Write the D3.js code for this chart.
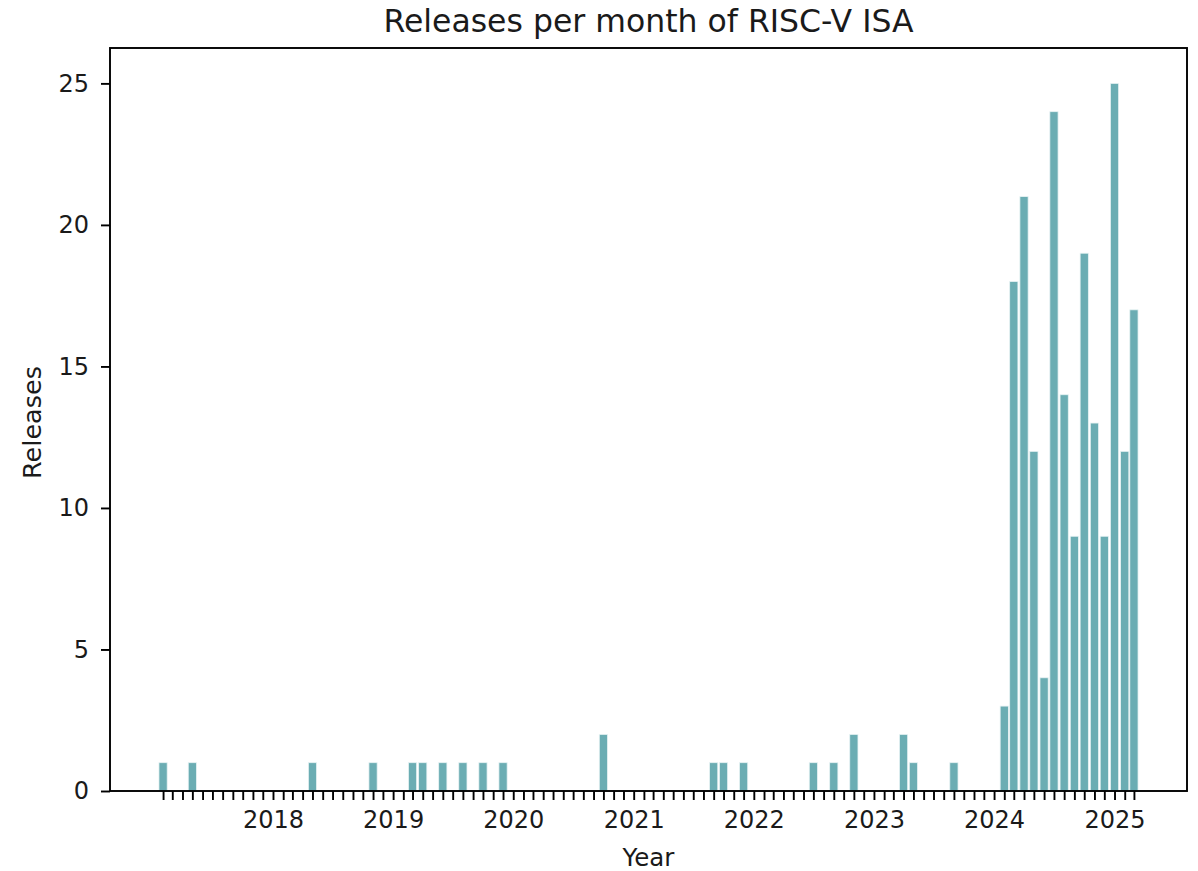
<!DOCTYPE html>
<html>
<head>
<meta charset="utf-8">
<script src="https://cdn.jsdelivr.net/npm/d3@7"></script>
<style>
    body { margin: 0; background: #fff; }
    text { font-family: "DejaVu Sans", sans-serif; fill: #1a1a1a; }
</style>
</head>
<body>
<div id="chart"></div>
<script>
// releases per month (only months with releases)
const months = [
    "2017-02", "2017-05", "2018-05", "2018-11", "2019-03", "2019-04", "2019-06",
    "2019-08", "2019-10", "2019-12", "2020-10", "2021-09", "2021-10", "2021-12",
    "2022-07", "2022-09", "2022-11", "2023-04", "2023-05", "2023-09",
    "2024-02", "2024-03", "2024-04", "2024-05", "2024-06", "2024-07", "2024-08",
    "2024-09", "2024-10", "2024-11", "2024-12", "2025-01", "2025-02", "2025-03"
];
const releases = [
    1, 1, 1, 1, 1, 1, 1,
    1, 1, 1, 2, 1, 1, 1,
    1, 1, 2, 2, 1, 1,
    3, 18, 21, 12, 4, 24, 14,
    9, 19, 13, 9, 25, 12, 17
];
const yTicks = [0, 5, 10, 15, 20, 25];
const yearTicks = ["2018", "2019", "2020", "2021", "2022", "2023", "2024", "2025"];

const width = 1198, height = 871;
const margin = { top: 48, right: 11, bottom: 80, left: 110 };
const DAY = 24 * 3600 * 1000;
const barDays = 25;

const parse = d3.utcParse("%Y-%m");
const data = months.map((m, i) => ({ date: parse(m), value: releases[i] }));

const first = data[0].date, last = data[data.length - 1].date;
// matplotlib-style 5% margins around the bar extents
const span = (last - first) + barDays * DAY;
const pad = 0.05 * span + barDays * DAY / 2;

const x = d3.scaleUtc()
    .domain([new Date(+first - pad), new Date(+last + pad)])
    .range([margin.left, width - margin.right]);

const y = d3.scaleLinear()
    .domain([0, 25 * 1.05])
    .range([height - margin.bottom, margin.top]);

const svg = d3.select("#chart").append("svg")
    .attr("width", width)
    .attr("height", height);

svg.append("g")
    .selectAll("rect")
    .data(data)
    .enter().append("rect")
    .attr("x", d => x(new Date(+d.date - barDays * DAY / 2)))
    .attr("width", d => x(new Date(+d.date + barDays * DAY / 2)) - x(new Date(+d.date - barDays * DAY / 2)))
    .attr("y", d => y(d.value))
    .attr("height", d => y(0) - y(d.value))
    .attr("fill", "#6badb3")
    .attr("stroke", "#e8f3f4")
    .attr("stroke-width", 0.8);

// one tick per month, year label on January
const allMonths = d3.utcMonth.range(first, new Date(+last + DAY));
const xAxis = d3.axisBottom(x)
    .tickValues(allMonths)
    .tickSize(9)
    .tickSizeOuter(0)
    .tickPadding(11)
    .tickFormat(d => {
        const yr = String(d.getUTCFullYear());
        return d.getUTCMonth() === 0 && yearTicks.includes(yr) ? yr : "";
    });

const gx = svg.append("g")
    .attr("transform", `translate(0,${height - margin.bottom})`)
    .call(xAxis);
gx.select(".domain").remove();
gx.selectAll("line").attr("stroke", "#000").attr("stroke-width", 1.9);
gx.selectAll("text").style("font-size", "24px").attr("fill", "#1a1a1a");

const yAxis = d3.axisLeft(y)
    .tickValues(yTicks)
    .tickSize(9)
    .tickSizeOuter(0)
    .tickPadding(12);

const gy = svg.append("g")
    .attr("transform", `translate(${margin.left},0)`)
    .call(yAxis);
gy.select(".domain").remove();
gy.selectAll("line").attr("stroke", "#000").attr("stroke-width", 1.9);
gy.selectAll("text").style("font-size", "24px").attr("fill", "#1a1a1a");

// axes frame
svg.append("rect")
    .attr("x", margin.left)
    .attr("y", margin.top)
    .attr("width", width - margin.right - margin.left)
    .attr("height", height - margin.bottom - margin.top)
    .attr("fill", "none")
    .attr("stroke", "#000")
    .attr("stroke-width", 1.9);

const cx = (margin.left + width - margin.right) / 2;

svg.append("text")
    .attr("x", cx)
    .attr("y", 32)
    .attr("text-anchor", "middle")
    .style("font-size", "31.5px")
    .text("Releases per month of RISC-V ISA");

svg.append("text")
    .attr("x", cx)
    .attr("y", 866)
    .attr("text-anchor", "middle")
    .style("font-size", "24.5px")
    .text("Year");

svg.append("text")
    .attr("transform", `translate(41,${(margin.top + height - margin.bottom) / 2 + 3}) rotate(-90)`)
    .attr("text-anchor", "middle")
    .style("font-size", "25.5px")
    .text("Releases");
</script>
</body>
</html>
